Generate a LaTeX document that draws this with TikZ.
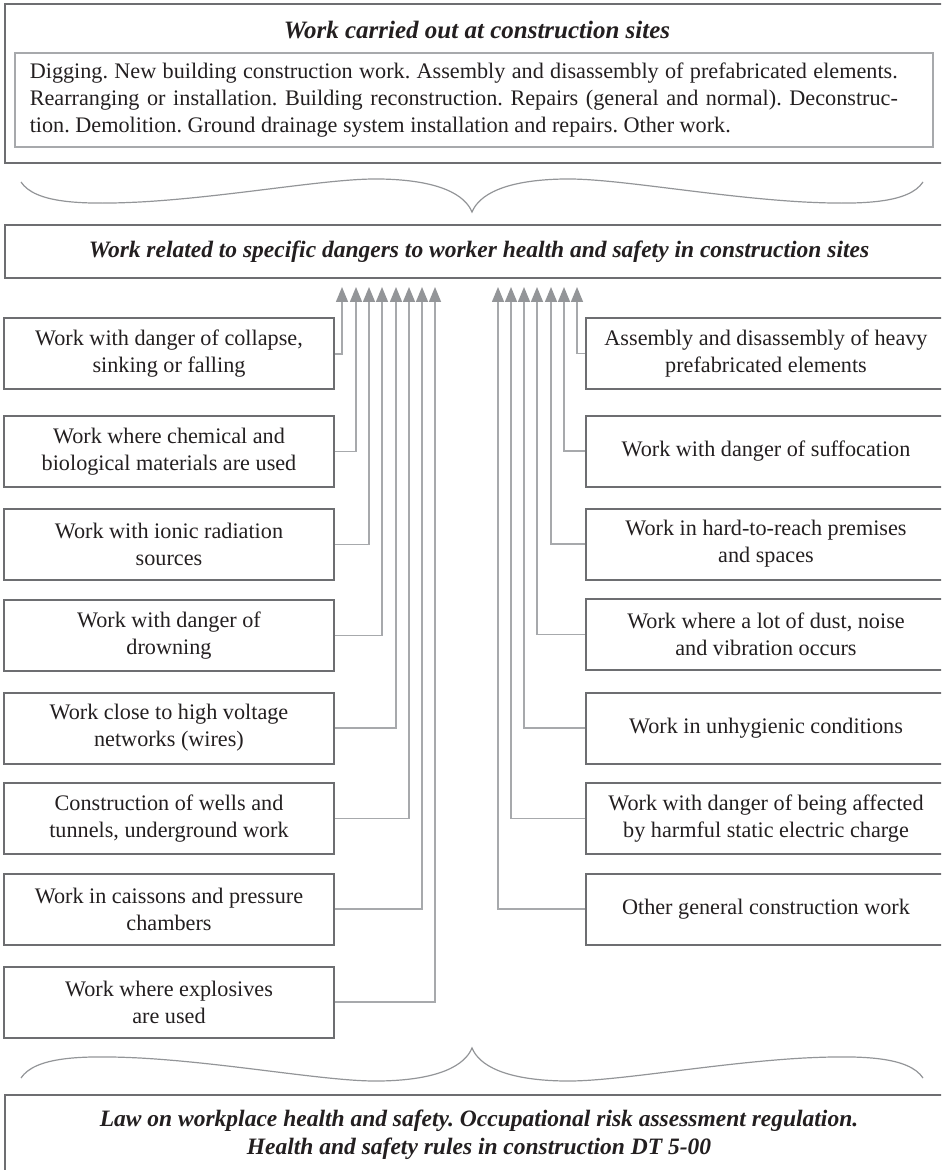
\documentclass[tikz,border=0pt]{standalone}
\usepackage{fontspec}
\setmainfont{Liberation Serif}
\usepackage{tikz}
\usetikzlibrary{arrows.meta, positioning}
\definecolor{InkGray}{HTML}{231F20}
\definecolor{FrameGray}{HTML}{6D6E71}
\definecolor{LineGray}{HTML}{A7A9AC}
\definecolor{TipGray}{HTML}{939598}
\newcommand{\boxfont}{\fontsize{11.1}{13.5}\selectfont}
\newcommand{\headfont}{\fontsize{11.75}{14}\selectfont\bfseries\itshape}
\frenchspacing

\tikzset{
  frame/.style={draw=FrameGray, line width=1pt, text=InkGray, inner sep=0pt},
  headtext/.style={text=InkGray, font=\headfont, align=center},
  dangerbox/.style={frame, minimum height=35.5pt, align=center, font=\boxfont},
  leftbox/.style={dangerbox, minimum width=165pt},
  rightbox/.style={dangerbox, minimum width=180pt},
  feed/.style={draw=LineGray, line width=0.75pt,
               -{Triangle[width=6pt, length=7.5pt, color=TipGray]}},
  brace/.style={draw=TipGray, line width=0.6pt}
}

\begin{document}
\begin{tikzpicture}[x=0.5pt, y=-0.5pt]
\useasboundingbox (0,0) rectangle (941,1170);
\clip (0,0) rectangle (941,1170);

% work at construction sites
\node[frame, minimum width=474pt, minimum height=79.5pt] (sites) at (479,83.5) {};
\node[headtext, font=\fontsize{12.5}{15}\selectfont\bfseries\itshape] (sitestitle) at (477,30)
    {Work carried out at construction sites};
\node[draw=LineGray, line width=0.6pt, minimum width=459pt, minimum height=47pt] (sitelist) at (474,100) {};
\node[text=InkGray, text width=434pt, inner sep=0pt, align=justify, font=\boxfont, anchor=west]
    (sitetext) at ([xshift=7.5pt]sitelist.west) {
    Digging. New building construction work. Assembly and disassembly of prefabricated elements.\linebreak
    Rearranging or installation. Building reconstruction. Repairs (general and normal). Deconstruc-\linebreak
    tion. Demolition. Ground drainage system installation and repairs. Other work.
};

\draw[brace] (21,182) .. controls (35,203) and (80,205) .. (140,202)
  .. controls (230,197) and (330,178) .. (380,179)
  .. controls (440,180) and (465,195) .. (472,212)
  .. controls (479,195) and (504,180) .. (564,179)
  .. controls (614,178) and (714,197) .. (804,202)
  .. controls (864,205) and (909,203) .. (923,182);

% specific dangers
\node[frame, headtext, minimum width=474pt, minimum height=26.5pt] (dangers) at (479,251.5)
    {Work related to specific dangers to worker health and safety in construction sites};

% left column
\node[leftbox] (collapse) at (169,354) {Work with danger of collapse,\\ sinking or falling};
\node[leftbox] (chemical) at (169,451.5) {Work where chemical and\\ biological materials are used};
\node[leftbox] (radiation) at (169,544.5) {Work with ionic radiation\\ sources};
\node[leftbox] (drowning) at (169,635.5) {Work with danger of\\ drowning};
\node[leftbox] (voltage) at (169,728) {Work close to high voltage\\ networks (wires)};
\node[leftbox] (wells) at (169,818.5) {Construction of wells and\\ tunnels, underground work};
\node[leftbox] (caissons) at (169,909) {Work in caissons and pressure\\ chambers};
\node[leftbox] (explosives) at (169,1002) {Work where explosives\\ are used};

% right column
\node[rightbox] (assembly) at (766,353.5) {Assembly and disassembly of heavy\\ prefabricated elements};
\node[rightbox] (suffocation) at (766,451) {Work with danger of suffocation};
\node[rightbox] (premises) at (766,544) {Work in hard-to-reach premises\\ and spaces};
\node[rightbox] (dust) at (766,634.5) {Work where a lot of dust, noise\\ and vibration occurs};
\node[rightbox] (hygiene) at (766,728) {Work in unhygienic conditions};
\node[rightbox] (static) at (766,818.5) {Work with danger of being affected\\ by harmful static electric charge};
\node[rightbox] (general) at (766,909) {Other general construction work};

% arrow tips under the dangers box
\coordinate (up1) at (342,287);
\coordinate (up2) at (356,287);
\coordinate (up3) at (369,287);
\coordinate (up4) at (382,287);
\coordinate (up5) at (396,287);
\coordinate (up6) at (409,287);
\coordinate (up7) at (422,287);
\coordinate (up8) at (435,287);
\coordinate (rup1) at (577,287);
\coordinate (rup2) at (564,287);
\coordinate (rup3) at (551,287);
\coordinate (rup4) at (537,287);
\coordinate (rup5) at (524,287);
\coordinate (rup6) at (511,287);
\coordinate (rup7) at (498,287);

\draw[feed] (collapse.east) -| (up1);
\draw[feed] (chemical.east) -| (up2);
\draw[feed] (radiation.east) -| (up3);
\draw[feed] (drowning.east) -| (up4);
\draw[feed] (voltage.east) -| (up5);
\draw[feed] (wells.east) -| (up6);
\draw[feed] (caissons.east) -| (up7);
\draw[feed] (explosives.east) -| (up8);

\draw[feed] (assembly.west) -| (rup1);
\draw[feed] (suffocation.west) -| (rup2);
\draw[feed] (premises.west) -| (rup3);
\draw[feed] (dust.west) -| (rup4);
\draw[feed] (hygiene.west) -| (rup5);
\draw[feed] (static.west) -| (rup6);
\draw[feed] (general.west) -| (rup7);

\draw[brace] (21,1078) .. controls (35,1057) and (80,1055) .. (140,1058)
  .. controls (230,1063) and (330,1082) .. (380,1081)
  .. controls (440,1080) and (465,1065) .. (472,1048)
  .. controls (479,1065) and (504,1080) .. (564,1081)
  .. controls (614,1082) and (714,1063) .. (804,1058)
  .. controls (864,1055) and (909,1057) .. (923,1078);

% legislation
\node[frame, headtext, minimum width=474pt, minimum height=40pt] (law) at (479,1135)
    {Law on workplace health and safety. Occupational risk assessment regulation.\\
     Health and safety rules in construction DT 5-00};
\end{tikzpicture}
\end{document}
